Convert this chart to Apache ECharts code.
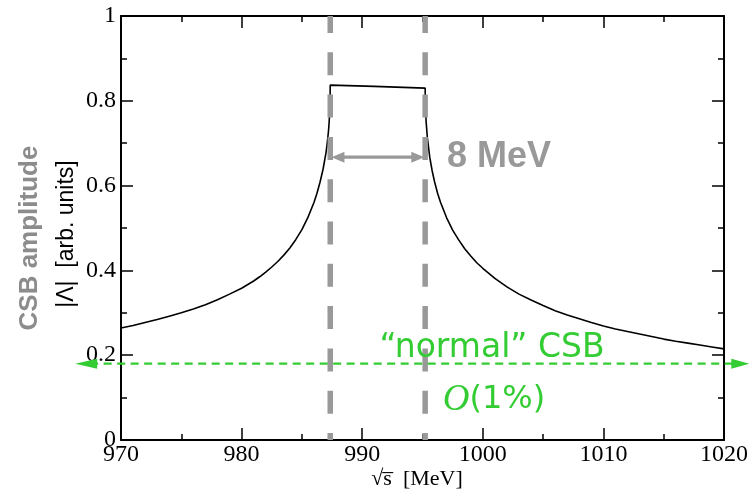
<!DOCTYPE html>
<html>
<head>
<meta charset="utf-8">
<script src="https://cdn.jsdelivr.net/npm/echarts@6/dist/echarts.min.js"></script>
<style>html,body{margin:0;padding:0;background:#fff;}#chart{width:751px;height:491px;}</style>
</head>
<body>
<div id="chart"></div>
<script>
// ---- data ----
const energy = [970, 971, 972, 973, 974, 975, 976, 977, 978, 979, 980, 981, 981.5, 982, 982.5, 983, 983.5, 984, 984.5, 985, 985.5,
  986, 986.25, 986.5, 986.75, 987, 987.1, 987.2, 987.25, 987.3, 987.33, 987.35,
  991, 995.22, 995.23, 995.25, 995.3, 995.4, 995.6, 995.8, 996, 996.25, 996.5, 997, 997.5, 998, 998.5, 999, 999.5, 1000,
  1001, 1002, 1003, 1004, 1005, 1006, 1007, 1008, 1009, 1010, 1011, 1012, 1013, 1014, 1015, 1016, 1017, 1018, 1019, 1020];
const amplitude = [0.264, 0.270, 0.277, 0.284, 0.292, 0.300, 0.309, 0.319, 0.331, 0.344, 0.358, 0.375, 0.385, 0.396, 0.408, 0.421, 0.436, 0.453, 0.473, 0.496, 0.525,
  0.56, 0.582, 0.608, 0.638, 0.678, 0.70, 0.727, 0.746, 0.77, 0.791, 0.837,
  0.834, 0.830, 0.804, 0.782, 0.751, 0.714, 0.667, 0.635, 0.609, 0.582, 0.560, 0.524, 0.495, 0.472, 0.451, 0.434, 0.418, 0.405,
  0.381, 0.361, 0.344, 0.330, 0.317, 0.305, 0.295, 0.286, 0.277, 0.269, 0.262, 0.256, 0.250, 0.244, 0.238, 0.233, 0.2285, 0.224, 0.2195, 0.215];
const thresholds = [987.35, 995.22];          // dashed grey verticals
const widthArrow = [987.45, 995.15, 0.667];   // "8 MeV" double arrow (x1, x2, y)
const normalLevel = [966.2, 1022.1, 0.18];    // green dashed arrow (x1, x2, y)
const xRange = [970, 1020, 10];
const yRange = [0, 1, 0.2];

const curve = energy.map((e, i) => [e, amplitude[i]]);

function arrowHead(tip, dir, len, half) {
  const bx = tip[0] - dir[0] * len, by = tip[1] - dir[1] * len;
  return [[tip[0], tip[1]], [bx - dir[1] * half, by + dir[0] * half], [bx + dir[1] * half, by - dir[0] * half]];
}

const chart = echarts.init(document.getElementById('chart'), null, {renderer: 'canvas'});
const axisCommon = {
  type: 'value',
  axisLine: {show: true, onZero: false, lineStyle: {color: '#000', width: 2}},
  axisTick: {show: true, inside: true, length: 12, lineStyle: {color: '#000', width: 1.5}},
  minorTick: {show: true, splitNumber: 2, length: 6, lineStyle: {color: '#000', width: 1.5}},
  splitLine: {show: false},
  minorSplitLine: {show: false}
};
const labelStyle = {color: '#000', fontFamily: 'Liberation Serif', fontSize: 24, showMinLabel: true, showMaxLabel: true,
  formatter: v => String(v)};

chart.setOption({
  animation: false,
  backgroundColor: '#fff',
  grid: {left: 121, right: 26, top: 16, bottom: 51},
  xAxis: [
    Object.assign({}, axisCommon, {position: 'bottom', min: xRange[0], max: xRange[1], interval: xRange[2],
      axisLabel: Object.assign({margin: 3}, labelStyle)}),
    Object.assign({}, axisCommon, {position: 'top', min: xRange[0], max: xRange[1], interval: xRange[2],
      axisLabel: {show: false}})
  ],
  yAxis: [
    Object.assign({}, axisCommon, {position: 'left', min: yRange[0], max: yRange[1], interval: yRange[2],
      axisLabel: Object.assign({margin: 5}, labelStyle)}),
    Object.assign({}, axisCommon, {position: 'right', min: yRange[0], max: yRange[1], interval: yRange[2],
      axisLabel: {show: false}})
  ],
  series: [
    {
      type: 'line', data: curve, xAxisIndex: 0, yAxisIndex: 0,
      showSymbol: false, symbol: 'none', smooth: false,
      lineStyle: {color: '#000', width: 1.6}, z: 3
    },
    {
      type: 'custom', clip: false, xAxisIndex: 0, yAxisIndex: 0, z: 4,
      data: thresholds.map(t => [t, 0]),
      encode: {x: 0, y: 1},
      renderItem: function (params, api) {
        const x = api.value(0);
        const p1 = api.coord([x, yRange[1]]);
        const p2 = api.coord([x, yRange[0]]);
        return {type: 'line', shape: {x1: p1[0], y1: p1[1], x2: p2[0], y2: p2[1]},
          style: {stroke: '#999999', lineWidth: 5.5, lineDash: [23, 19.3], lineDashOffset: 6}};
      }
    },
    {
      type: 'custom', clip: false, xAxisIndex: 0, yAxisIndex: 0, z: 5,
      data: [widthArrow],
      encode: {x: [0, 1], y: 2},
      renderItem: function (params, api) {
        const a = api.coord([api.value(0), api.value(2)]);
        const b = api.coord([api.value(1), api.value(2)]);
        return {type: 'group', children: [
          {type: 'line', shape: {x1: a[0] + 8, y1: a[1], x2: b[0] - 8, y2: b[1]}, style: {stroke: '#999999', lineWidth: 3.2}},
          {type: 'polygon', shape: {points: arrowHead(a, [-1, 0], 13, 5.5)}, style: {fill: '#999999'}},
          {type: 'polygon', shape: {points: arrowHead(b, [1, 0], 13, 5.5)}, style: {fill: '#999999'}}
        ]};
      }
    },
    {
      type: 'custom', clip: false, xAxisIndex: 0, yAxisIndex: 0, z: 6,
      data: [normalLevel],
      encode: {x: [0, 1], y: 2},
      renderItem: function (params, api) {
        const a = api.coord([api.value(0), api.value(2)]);
        const b = api.coord([api.value(1), api.value(2)]);
        return {type: 'group', children: [
          {type: 'line', shape: {x1: a[0] + 15, y1: a[1], x2: b[0] - 15, y2: b[1]},
            style: {stroke: '#33cc33', lineWidth: 2.2, lineDash: [8, 5.5]}},
          {type: 'polygon', shape: {points: arrowHead(a, [-1, 0], 22, 5)}, style: {fill: '#33cc33'}},
          {type: 'polygon', shape: {points: arrowHead(b, [1, 0], 18, 5)}, style: {fill: '#33cc33'}}
        ]};
      }
    }
  ],
  graphic: [
    {type: 'text', x: 447, y: 157, z: 10,
      style: {text: '8 MeV', fill: '#999999', font: 'bold 36px "Liberation Sans"', textAlign: 'left', textVerticalAlign: 'middle'}},
    {type: 'text', x: 492, y: 348, z: 10,
      style: {text: '\u201Cnormal\u201D CSB', fill: '#33cc33', font: '33px "DejaVu Sans"', textAlign: 'center', textVerticalAlign: 'middle'}},
    {type: 'text', x: 494, y: 400, z: 10,
      style: {text: '{o|O}{p|(1%)}', textAlign: 'center', textVerticalAlign: 'middle',
        rich: {
          o: {fill: '#33cc33', fontFamily: 'Liberation Serif', fontStyle: 'italic', fontSize: 37},
          p: {fill: '#33cc33', fontFamily: 'DejaVu Sans', fontSize: 32}
        }}},
    {type: 'text', x: 417, y: 479, z: 10,
      style: {text: '\u221As\u0305  [MeV]', fill: '#000', font: '22px "Liberation Serif"', textAlign: 'center', textVerticalAlign: 'middle'}},
    {type: 'text', x: 30, y: 238, rotation: Math.PI / 2, z: 10,
      style: {text: 'CSB amplitude', fill: '#8c8c8c', font: 'bold 26px "Liberation Sans"', textAlign: 'center', textVerticalAlign: 'middle'}},
    {type: 'text', x: 67, y: 234, rotation: Math.PI / 2, z: 10,
      style: {text: '|\u039B|  [arb. units]', fill: '#000', font: '23px "Liberation Sans"', textAlign: 'center', textVerticalAlign: 'middle'}}
  ]
});
</script>
</body>
</html>
